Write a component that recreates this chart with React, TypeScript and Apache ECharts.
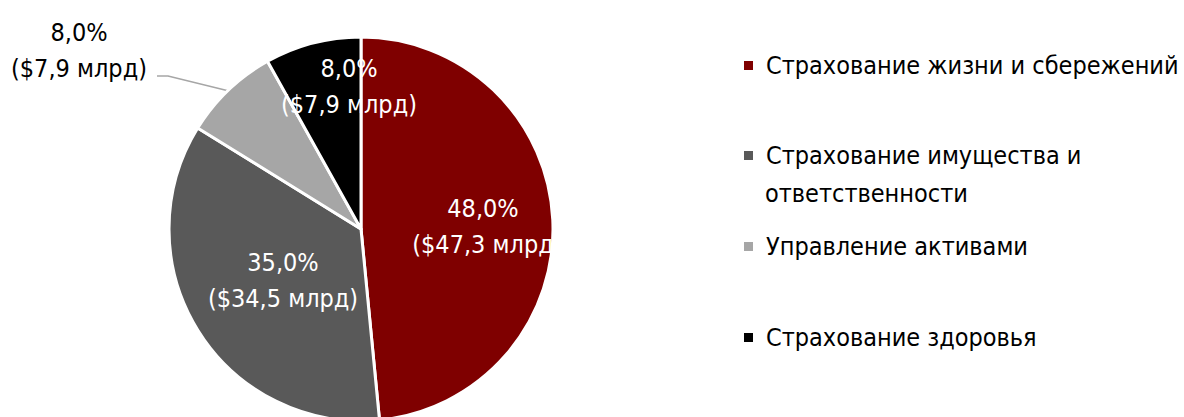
import React, { useEffect, useRef } from "react";
import * as echarts from "echarts";

const categories = [
  "Страхование жизни и сбережений",
  "Страхование имущества и ответственности",
  "Управление активами",
  "Страхование здоровья",
];
const values = [47.3, 34.5, 7.9, 7.9];
const percentLabels = ["48,0%", "35,0%", "8,0%", "8,0%"];
const amountLabels = ["($47,3 млрд", "($34,5 млрд)", "($7,9 млрд)", "($7,9 млрд)"];
const colors = ["#7f0000", "#595959", "#a6a6a6", "#000000"];

const FONT = "'DejaVu Sans Condensed', 'Liberation Sans Narrow', sans-serif";
const FS = 25;

export default function App() {
  const ref = useRef<HTMLDivElement>(null);
  useEffect(() => {
    document.body.style.margin = "0";
    const chart = echarts.init(ref.current!, undefined, { renderer: "svg" });
    const legendTops = [53, 143, 234, 325];
    const data = categories.map((name, i) => {
      const item: any = {
        name,
        value: values[i],
        itemStyle: { color: colors[i] },
      };
      if (i === 2) {
        item.label = { position: "outside", color: "#000" };
        item.labelLine = { show: true, lineStyle: { color: "#a6a6a6", width: 1.5 } };
      }
      return item;
    });
    chart.setOption({
      animation: false,
      legend: categories.map((name, i) => ({
        data: [name],
        left: 742,
        top: legendTops[i],
        padding: 0,
        icon: "rect",
        itemWidth: 11,
        itemHeight: 11,
        selectedMode: false,
        formatter: (n: string) => (i === 1 ? "Страхование имущества и" : n),
        textStyle: { fontFamily: FONT, fontSize: FS, color: "#000", padding: [0, 0, 0, 7] },
      })),
      graphic: [
        {
          type: "text",
          left: 765,
          top: 181,
          style: { text: "ответственности", font: `${FS}px ${FONT}`, fill: "#000" },
        },
      ],
      series: [
        {
          type: "pie",
          center: [361, 229],
          radius: [0, 192],
          startAngle: 90,
          clockwise: true,
          itemStyle: { borderColor: "#fff", borderWidth: 3 },
          label: {
            show: true,
            position: "inside",
            color: "#fff",
            fontFamily: FONT,
            fontSize: FS,
            lineHeight: 36,
            align: "center",
            formatter: (p: any) => `${percentLabels[p.dataIndex]}\n${amountLabels[p.dataIndex]}`,
          },
          labelLine: { show: false },
          labelLayout: (p: any) => {
            if (p.dataIndex === 0) return { x: 483, y: 226, align: "center", verticalAlign: "middle" };
            if (p.dataIndex === 1) return { x: 283, y: 280, align: "center", verticalAlign: "middle" };
            if (p.dataIndex === 2)
              return {
                x: 79,
                y: 50,
                align: "center",
                verticalAlign: "middle",
                labelLinePoints: [
                  [229, 91],
                  [168, 76],
                  [157, 76],
                ],
              };
            return { x: 349, y: 86, align: "center", verticalAlign: "middle" };
          },
          data,
        },
      ],
    });
    return () => chart.dispose();
  }, []);
  return <div ref={ref} style={{ width: 1184, height: 417 }} />;
}
